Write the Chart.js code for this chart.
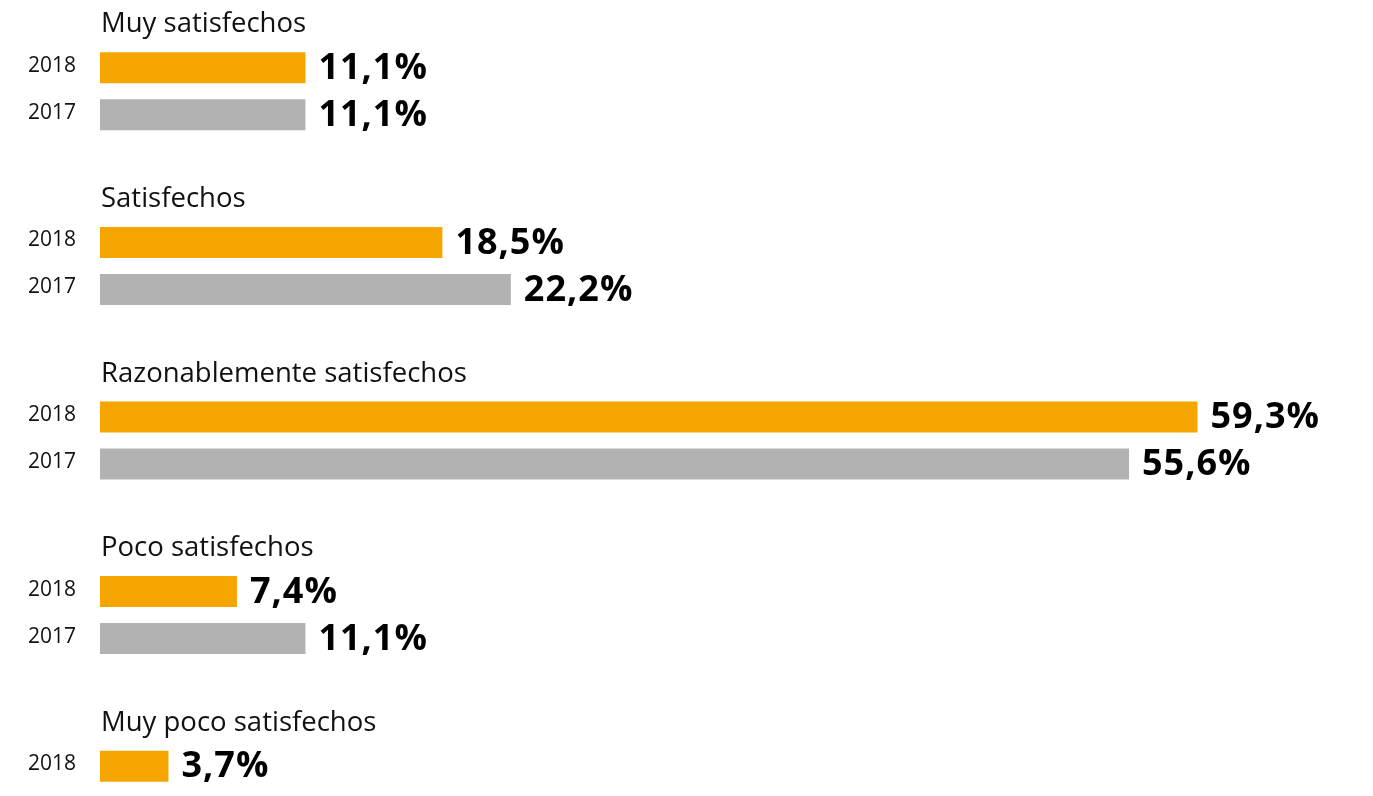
<!DOCTYPE html>
<html lang="es">
<head>
<meta charset="utf-8">
<title>Grado de satisfacción 2018 / 2017</title>
<script src="https://cdn.jsdelivr.net/npm/chart.js@4/dist/chart.umd.min.js"></script>
<style>
  html, body { margin: 0; padding: 0; background: #fff; height: 796px; overflow: hidden; }
  #wrap { position: absolute; left: 0; top: 0; width: 1373px; height: 877px; }
</style>
</head>
<body>
<div id="wrap"><canvas id="satisfaccion"></canvas></div>
<script>
// satisfaction levels, one group per level
const categories = [
  "Muy satisfechos",
  "Satisfechos",
  "Razonablemente satisfechos",
  "Poco satisfechos",
  "Muy poco satisfechos",
];
const years = ["2018", "2017"];
const values2018 = [11.1, 18.5, 59.3, 7.4, 3.7];
const values2017 = [11.1, 22.2, 55.6, 11.1, 0];

const ORANGE = "#f5a500";
const GREY = "#b2b2b2";

function pct(v) {
  return v.toFixed(1).replace(".", ",") + "%";
}

// group titles above each pair, year names on the left, values after each bar
const barText = {
  id: "barText",
  afterDatasetsDraw(chart) {
    const ctx = chart.ctx;
    const top = chart.getDatasetMeta(0).data;
    ctx.save();
    ctx.fillStyle = "#111";
    ctx.textAlign = "left";

    ctx.font = "27.5px 'Open Sans'";
    ctx.textBaseline = "alphabetic";
    top.forEach((bar, i) => {
      ctx.fillText(categories[i], 101, bar.y - bar.height / 2 - 20);
    });

    chart.data.datasets.forEach((ds, d) => {
      chart.getDatasetMeta(d).data.forEach((bar, i) => {
        ctx.letterSpacing = "0px";
        ctx.fillStyle = "#111";
        ctx.font = "21px 'Open Sans'";
        ctx.textBaseline = "middle";
        ctx.fillText(ds.label, 28, bar.y - 2);
        ctx.fillStyle = "#000";
        ctx.font = "bold 36px 'Open Sans'";
        ctx.letterSpacing = "1px";
        ctx.fillText(pct(ds.data[i]), bar.x + 13, bar.y + 1);
      });
    });
    ctx.restore();
  },
};

const config = {
  type: "bar",
  data: {
    labels: categories,
    datasets: [
      { label: years[0], data: values2018, backgroundColor: ORANGE },
      { label: years[1], data: values2017, backgroundColor: GREY },
    ],
  },
  options: {
    indexAxis: "y",
    responsive: true,
    maintainAspectRatio: false,
    animation: false,
    borderWidth: 0,
    barPercentage: 0.66,
    categoryPercentage: 0.538,
    layout: { padding: { left: 100, right: 70, top: 4, bottom: 0 } },
    scales: {
      x: { min: 0, max: 65, display: false },
      y: { display: false },
    },
    plugins: {
      legend: { display: false },
      tooltip: { enabled: false },
    },
  },
  plugins: [barText],
};

new Chart(document.getElementById("satisfaccion"), config);
</script>
</body>
</html>
